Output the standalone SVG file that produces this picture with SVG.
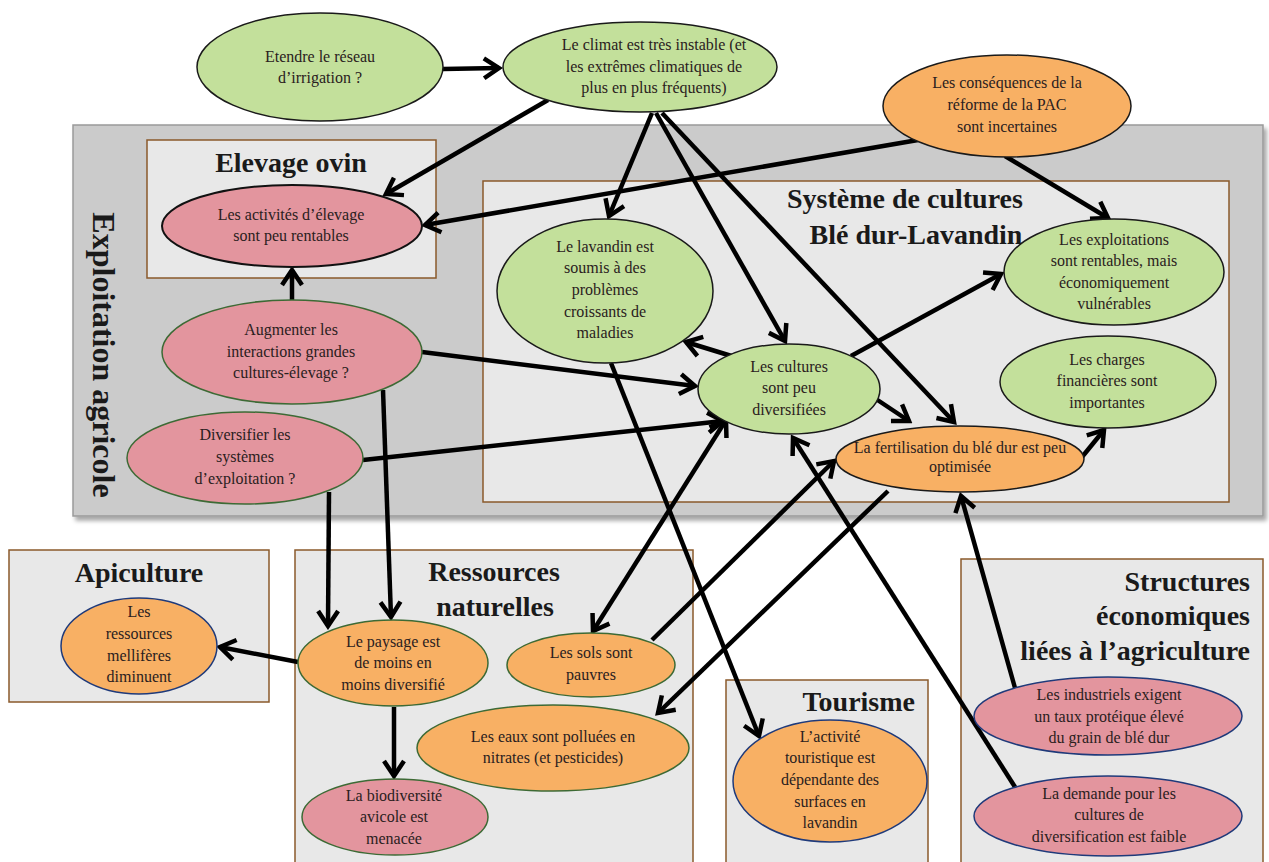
<svg xmlns="http://www.w3.org/2000/svg" width="1269" height="862" viewBox="0 0 1269 862">
<style>
.t{font-family:"Liberation Serif","DejaVu Serif",serif;font-size:16px;fill:#2a2020;text-anchor:middle}
.h{font-family:"Liberation Serif","DejaVu Serif",serif;font-size:28px;font-weight:bold;fill:#1a1a1a}
.box{fill:#e8e8e8;stroke:#8a5a2b;stroke-width:1.5}
.g{fill:#c3e09b;stroke:#1a1a1a;stroke-width:1.5}
.p{fill:#e3959e}
.o{fill:#f8b064}
.kb{stroke:#1a1a1a;stroke-width:1.5}
.kg{stroke:#3d6a35;stroke-width:1.5}
.kn{stroke:#1f3a7a;stroke-width:1.5}
.e{stroke:#000;stroke-width:4.5;fill:none;marker-end:url(#ah)}
</style>
<defs>
<marker id="ah" viewBox="-20 -13 24 26" refX="0" refY="0" markerWidth="24" markerHeight="26" markerUnits="userSpaceOnUse" orient="auto-start-reverse">
<path d="M-15,-10 L0,0 L-15,10" fill="none" stroke="#000" stroke-width="4.5" stroke-linejoin="miter"/>
</marker>
<filter id="sh" x="-5%" y="-5%" width="110%" height="115%">
<feDropShadow dx="3" dy="4" stdDeviation="2" flood-color="#000" flood-opacity="0.35"/>
</filter>
</defs>
<rect width="1269" height="862" fill="#ffffff"/>

<g id="exploitation-agricole">
<rect x="73" y="125" width="1190" height="391" fill="#cbcbcb" stroke="#9a9a9a" stroke-width="1.5" filter="url(#sh)"/>
<text class="h" style="font-size:32px" text-anchor="middle" transform="translate(93,355) rotate(90)">Exploitation agricole</text>
</g>
<g id="elevage-ovin">
<rect class="box" x="147" y="140" width="289" height="138"/>
<text class="h" x="291" y="172" text-anchor="middle">Elevage ovin</text>
</g>
<g id="systeme-cultures">
<rect class="box" x="483" y="181" width="746" height="321"/>
<text class="h" x="905" y="208" text-anchor="middle">Système de cultures</text>
<text class="h" x="916" y="244" text-anchor="middle">Blé dur-Lavandin</text>
</g>
<g id="apiculture">
<rect class="box" x="9" y="550" width="260" height="152"/>
<text class="h" x="139" y="582" text-anchor="middle">Apiculture</text>
</g>
<g id="ressources-naturelles">
<rect class="box" x="295" y="550" width="398" height="320"/>
<text class="h" x="494" y="581" text-anchor="middle">Ressources</text>
<text class="h" x="495" y="616" text-anchor="middle">naturelles</text>
</g>
<g id="tourisme">
<rect class="box" x="726" y="680" width="202" height="190"/>
<text class="h" x="915" y="711" text-anchor="end">Tourisme</text>
</g>
<g id="structures-economiques">
<rect class="box" x="961" y="559" width="302" height="311"/>
<text class="h" x="1250" y="591" text-anchor="end">Structures</text>
<text class="h" x="1250" y="625" text-anchor="end">économiques</text>
<text class="h" x="1250" y="660" text-anchor="end">liées à l’agriculture</text>
</g>

<g id="connectors">
<path class="e" d="M443,69 L499,68"/>
<path class="e" d="M548,100 L386,194"/>
<path class="e" d="M652,113 L609,216"/>
<path class="e" d="M656,113 L785,341"/>
<path class="e" d="M662,113 L954,422"/>
<path class="e" d="M918,140 L425,225"/>
<path class="e" d="M1005,156 L1108,218"/>
<path class="e" d="M292,300 L292,270"/>
<path class="e" d="M422,352 L695,386"/>
<path class="e" d="M363,460 L723,421"/>
<path class="e" d="M738,358 L686,342"/>
<path class="e" d="M851,356 L1001,274"/>
<path class="e" d="M876,399 L909,421"/>
<path class="e" d="M1082,457 L1104,430"/>
<path class="e" d="M329,492 L328,626"/>
<path class="e" d="M383,390 L391,617"/>
<path class="e" d="M298,662 L220,647"/>
<path class="e" d="M394,707 L394,776"/>
<path class="e" d="M611,363 L759,736"/>
<path class="e" d="M652,640 L834,461"/>
<path class="e" d="M726,420 L593,631" style="marker-start:url(#ah)"/>
<path class="e" d="M888,491 L658,713"/>
<path class="e" d="M1015,688 L961,496"/>
<path class="e" d="M1015,787 L793,438"/>
</g>

<g id="n-etendre">
<ellipse class="g" cx="320" cy="67" rx="123" ry="54"/>
<text class="t" x="320" y="62">Etendre le réseau</text>
<text class="t" x="320" y="83">d’irrigation ?</text>
</g>
<g id="n-climat">
<ellipse class="g" cx="640" cy="67" rx="137" ry="45"/>
<text class="t" x="654" y="50">Le climat est très instable (et</text>
<text class="t" x="654" y="72">les extrêmes climatiques de</text>
<text class="t" x="654" y="93">plus en plus fréquents)</text>
</g>
<g id="n-pac">
<ellipse class="o kb" cx="1007" cy="106" rx="124" ry="51"/>
<text class="t" x="1007" y="88">Les conséquences de la</text>
<text class="t" x="1007" y="110">réforme de la PAC</text>
<text class="t" x="1007" y="132">sont incertaines</text>
</g>
<g id="n-elevage-rentable">
<ellipse class="p" cx="292" cy="226" rx="130" ry="41" stroke="#111" stroke-width="2"/>
<text class="t" x="291" y="220">Les activités d’élevage</text>
<text class="t" x="291" y="241">sont peu rentables</text>
</g>
<g id="n-augmenter">
<ellipse class="p kg" cx="292" cy="352" rx="130" ry="52"/>
<text class="t" x="291" y="335">Augmenter les</text>
<text class="t" x="291" y="357">interactions grandes</text>
<text class="t" x="291" y="378">cultures-élevage ?</text>
</g>
<g id="n-diversifier">
<ellipse class="p kg" cx="245" cy="458" rx="118" ry="46"/>
<text class="t" x="245" y="440">Diversifier les</text>
<text class="t" x="245" y="462">systèmes</text>
<text class="t" x="245" y="484">d’exploitation ?</text>
</g>
<g id="n-lavandin">
<ellipse class="g" cx="605" cy="291" rx="108" ry="72"/>
<text class="t" x="605" y="252">Le lavandin est</text>
<text class="t" x="605" y="273">soumis à des</text>
<text class="t" x="605" y="295">problèmes</text>
<text class="t" x="605" y="317">croissants de</text>
<text class="t" x="605" y="338">maladies</text>
</g>
<g id="n-cultures">
<ellipse class="g" cx="789" cy="389" rx="91" ry="45"/>
<text class="t" x="789" y="372">Les cultures</text>
<text class="t" x="789" y="393">sont peu</text>
<text class="t" x="789" y="415">diversifiées</text>
</g>
<g id="n-exploitations">
<ellipse class="g" cx="1114" cy="272" rx="110" ry="53"/>
<text class="t" x="1114" y="245">Les exploitations</text>
<text class="t" x="1114" y="266">sont rentables, mais</text>
<text class="t" x="1114" y="288">économiquement</text>
<text class="t" x="1114" y="309">vulnérables</text>
</g>
<g id="n-charges">
<ellipse class="g" cx="1108" cy="382" rx="108" ry="46"/>
<text class="t" x="1107" y="365">Les charges</text>
<text class="t" x="1107" y="386">financières sont</text>
<text class="t" x="1107" y="408">importantes</text>
</g>
<g id="n-fertilisation">
<ellipse class="o kb" cx="960" cy="459" rx="124" ry="33"/>
<text class="t" x="960" y="453">La fertilisation du blé dur est peu</text>
<text class="t" x="960" y="472">optimisée</text>
</g>
<g id="n-melliferes">
<ellipse class="o kn" cx="139" cy="646" rx="78" ry="48"/>
<text class="t" x="139" y="617">Les</text>
<text class="t" x="139" y="639">ressources</text>
<text class="t" x="139" y="661">mellifères</text>
<text class="t" x="139" y="682">diminuent</text>
</g>
<g id="n-paysage">
<ellipse class="o kg" cx="393" cy="663" rx="95" ry="43"/>
<text class="t" x="393" y="647">Le paysage est</text>
<text class="t" x="393" y="668">de moins en</text>
<text class="t" x="393" y="690">moins diversifié</text>
</g>
<g id="n-sols">
<ellipse class="o kg" cx="591" cy="665" rx="84" ry="32"/>
<text class="t" x="591" y="658">Les sols sont</text>
<text class="t" x="591" y="680">pauvres</text>
</g>
<g id="n-eaux">
<ellipse class="o kg" cx="553" cy="748" rx="136" ry="43"/>
<text class="t" x="553" y="742">Les eaux sont polluées en</text>
<text class="t" x="553" y="763">nitrates (et pesticides)</text>
</g>
<g id="n-biodiversite">
<ellipse class="p kg" cx="395" cy="817" rx="93" ry="38"/>
<text class="t" x="394" y="801">La biodiversité</text>
<text class="t" x="394" y="822">avicole est</text>
<text class="t" x="394" y="844">menacée</text>
</g>
<g id="n-tourisme">
<ellipse class="o kn" cx="830" cy="781" rx="97" ry="61"/>
<text class="t" x="830" y="742">L’activité</text>
<text class="t" x="830" y="763">touristique est</text>
<text class="t" x="830" y="785">dépendante des</text>
<text class="t" x="830" y="807">surfaces en</text>
<text class="t" x="830" y="828">lavandin</text>
</g>
<g id="n-industriels">
<ellipse class="p kn" cx="1108" cy="716" rx="134" ry="39"/>
<text class="t" x="1109" y="700">Les industriels exigent</text>
<text class="t" x="1109" y="722">un taux protéique élevé</text>
<text class="t" x="1109" y="743">du grain de blé dur</text>
</g>
<g id="n-demande">
<ellipse class="p kn" cx="1108" cy="816" rx="134" ry="40"/>
<text class="t" x="1109" y="799">La demande pour les</text>
<text class="t" x="1109" y="820">cultures de</text>
<text class="t" x="1109" y="842">diversification est faible</text>
</g>
</svg>
